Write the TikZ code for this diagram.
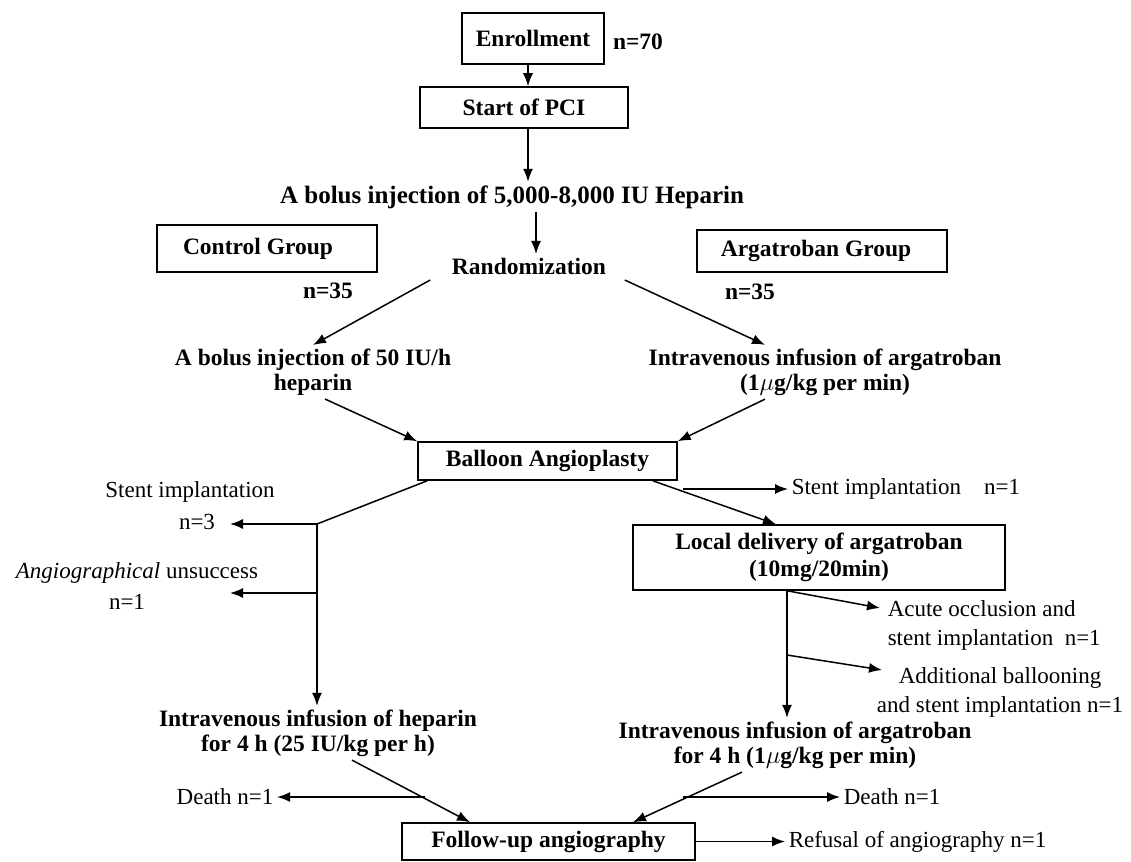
\documentclass[tikz,border=0pt]{standalone}
\usepackage{fontspec}
\setmainfont{Liberation Serif}
\usetikzlibrary{arrows.meta}
\begin{document}
\begin{tikzpicture}[x=1pt,y=-1pt,
  line width=1.5pt,
  box/.style={draw,inner sep=0pt,align=center,font=\fontsize{23.5}{27}\selectfont\bfseries},
  bt/.style={inner sep=3pt,align=center,font=\fontsize{23.5}{25}\selectfont\bfseries},
  rt/.style={inner sep=3pt,align=center,font=\fontsize{23}{29}\selectfont},
  arr/.style={-{Latex[length=13pt,width=10pt]}},
  ln/.style={-}]
\fill[white] (0,0) rectangle (1131,861);
\useasboundingbox (0,0) rectangle (1131,861);
\coordinate (ax) at (528,0);
\coordinate (bx) at (536,0);
% top
\node[box,minimum width=142pt,minimum height=51pt] (enr) at (533,38.5) {Enrollment};
\node[bt] (n70) at (638,42) {n=70};
\node[box,minimum width=208pt,minimum height=41pt] (pci) at (524,107.5) {Start of PCI};
\node[bt,font=\fontsize{25}{27}\selectfont\bfseries] (hep) at (512,197) {A bolus injection of 5,000-8,000 IU Heparin};
\draw[arr] (enr.south -| ax) -- (pci.north -| ax);
\draw[arr] (pci.south -| ax) -- (hep.north -| ax);
% randomization
\node[bt] (rand) at (529,266) {Randomization};
\draw[arr] (hep.south -| bx) -- (rand.north -| bx);
\node[box,minimum width=220pt,minimum height=47pt] (ctrl) at (267,248.5) {\hspace*{-18pt}Control Group};
\node[box,minimum width=250pt,minimum height=42pt] (argg) at (822,251) {\hspace*{-12pt}Argatroban Group};
\node[bt] (n35a) at (328,291) {n=35};
\node[bt] (n35b) at (750,292) {n=35};
\node[bt] (bolus) at (313,372) {A bolus injection of 50 IU/h\\heparin};
\node[bt] (argi) at (825,372) {Intravenous infusion of argatroban\\(1$\mu$g/kg per min)};
\draw[arr] ([xshift=-18pt,yshift=-2pt]rand.south west) -- (bolus.north);
\draw[arr] ([xshift=15pt,yshift=-2pt]rand.south east) -- ([xshift=-60pt]argi.north);
% balloon
\node[box,minimum width=259pt,minimum height=38pt] (bal) at (547.5,461) {Balloon Angioplasty};
\draw[arr] ([xshift=12pt]bolus.south) -- (bal.north west);
\draw[arr] ([xshift=-60pt]argi.south) -- (bal.north east);
% left branch
\coordinate (j1) at (317,524);
\coordinate (j2) at (317,593);
\coordinate (t1) at (230,524);
\coordinate (t2) at (230,593);
\node[rt] (st) at (190,492) {Stent implantation};
\node[rt] (n3) at (197,522) {n=3};
\node[rt] (angu) at (137,573) {\textit{Angiographical} unsuccess};
\node[rt] (n1a) at (127,602) {n=1};
\node[bt] (hepi) at (318,733) {Intravenous infusion of heparin\\for 4 h (25 IU/kg per h)};
\draw[ln] ([xshift=10pt]bal.south west) -- (j1);
\draw[arr] (j1) -- (t1);
\draw[arr] (j2) -- (t2);
\draw[arr] (j1) -- (hepi.north -| j1);
% right branch
\coordinate (s1) at (683,489);
\node[rt,anchor=west] (stn1) at (788,489) {Stent implantation\quad n=1};
\draw[arr] (s1) -- (stn1.west);
\node[box,minimum width=372pt,minimum height=65pt] (loc) at (819,557.5) {Local delivery of argatroban\\(10mg/20min)};
\draw[arr] ([xshift=-25pt]bal.south east) -- ([xshift=-43pt]loc.north);
\coordinate (v0) at ([xshift=-32pt]loc.south);
\coordinate (v1) at (787,655);
\coordinate (ta) at (880,608);
\coordinate (tb) at (882,670);
\node[rt,align=left,anchor=north west] (acute) at (884,597) {Acute occlusion and\\stent implantation\enspace n=1};
\node[rt] (addb) at (1000,692) {Additional ballooning\\and stent implantation n=1};
\node[bt] (argi2) at (795,745) {Intravenous infusion of argatroban\\for 4 h (1$\mu$g/kg per min)};
\draw[arr] (v0) -- (ta);
\draw[arr] (v1) -- (tb);
\draw[arr] (v0) -- (argi2.north -| v0);
% bottom
\node[box,minimum width=293pt,minimum height=37pt] (fu) at (548.5,841.5) {Follow-up angiography};
\node[rt] (dl) at (225,797) {Death n=1};
\node[rt,anchor=west] (dr) at (840,797) {Death n=1};
\node[rt,anchor=west] (ref) at (785,841.5) {Refusal of angiography n=1};
\coordinate (dlj) at (425,797);
\coordinate (drj) at (683,797);
\draw[arr] ([xshift=34pt]hepi.south) -- ([xshift=-78.5pt]fu.north);
\draw[arr] ([xshift=-53pt]argi2.south) -- ([xshift=84.5pt]fu.north);
\draw[arr] (dlj) -- (dl.east);
\draw[arr] (drj) -- (dr.west);
\draw[arr] (fu.east) -- (ref.west);
\end{tikzpicture}
\end{document}
